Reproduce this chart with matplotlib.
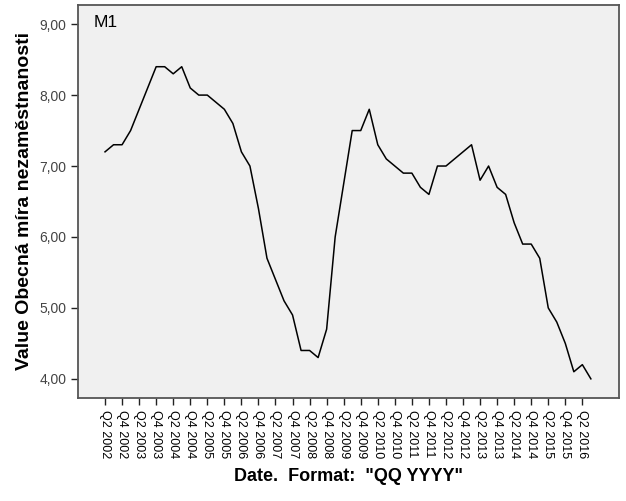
import matplotlib.pyplot as plt
import numpy as np

plt.rcParams['font.family'] = ['Liberation Sans', 'DejaVu Sans']

# quarterly values, Q2 2002 .. Q3 2016
quarters = []
for y in range(2002, 2017):
    for q in range(1, 5):
        quarters.append("Q%d %d" % (q, y))
quarters = quarters[1:quarters.index("Q3 2016") + 1]

values = [7.2, 7.3, 7.3, 7.5, 7.8, 8.1, 8.4, 8.4, 8.3, 8.4,
          8.1, 8.0, 8.0, 7.9, 7.8, 7.6, 7.2, 7.0, 6.4, 5.7,
          5.4, 5.1, 4.9, 4.4, 4.4, 4.3, 4.7, 6.0, 6.75, 7.5,
          7.5, 7.8, 7.3, 7.1, 7.0, 6.9, 6.9, 6.7, 6.6, 7.0,
          7.0, 7.1, 7.2, 7.3, 6.8, 7.0, 6.7, 6.6, 6.2, 5.9,
          5.9, 5.7, 5.0, 4.8, 4.5, 4.1, 4.2, 4.0]

yticks = [4, 5, 6, 7, 8, 9]
ytick_labels = ["4,00", "5,00", "6,00", "7,00", "8,00", "9,00"]

fig = plt.figure(figsize=(6.26, 5.01), dpi=100)
ax = fig.add_axes([78/626, 1 - 398/501, (619-78)/626, (398-5)/501])
ax.set_facecolor('#f0f0f0')

x = np.arange(len(values))
ax.plot(x, values, color='black', lw=1.1)

ax.set_xlim(-3.17, 60.3)
ax.set_ylim(3.73, 9.27)

ax.set_xticks(x[::2])
ax.set_xticklabels(quarters[::2], rotation=-90, fontsize=9)
ax.set_yticks(yticks)
ax.set_yticklabels(ytick_labels, fontsize=10, color='#444444')
ax.tick_params(direction='out', length=5, width=1, color='#222222')

for s in ax.spines.values():
    s.set_color('#555555')
    s.set_linewidth(1.3)

ax.text(0.028, 0.975, "M1", transform=ax.transAxes, fontsize=12.5, va='top', ha='left')

ax.set_ylabel("Value Obecná míra nezaměstnanosti", fontsize=14, fontweight='bold')
ax.yaxis.set_label_coords(-0.083, 0.5)
ax.set_xlabel('Date.  Format:  "QQ YYYY"', fontsize=13, fontweight='bold')
ax.xaxis.set_label_coords(0.5, -0.178)

fig.savefig("out.png", dpi=100)
